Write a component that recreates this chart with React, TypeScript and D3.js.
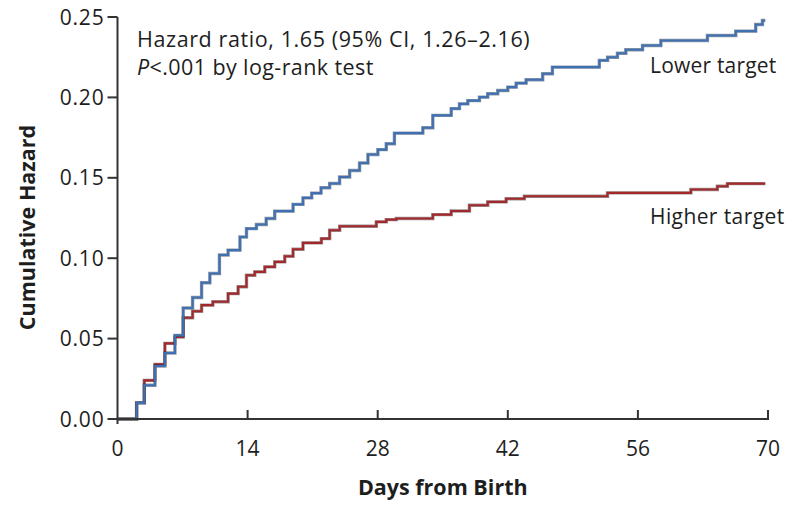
import React from "react";
import * as d3 from "d3";

// ---- Data ----
const xTicks = [0, 14, 28, 42, 56, 70];
const yTicks = [0, 0.05, 0.1, 0.15, 0.2, 0.25];

const lowerDays = [0, 2.06, 2.88, 4.03, 5.1, 6.18, 7.07, 8.08, 9.05, 9.94, 10.97, 11.9, 13.18, 13.88, 14.95, 16.0, 16.92, 18.89, 19.96, 20.9, 21.9, 22.83, 23.9, 24.98, 26.05, 26.95, 28.02, 28.92, 29.8, 32.86, 33.93, 35.91, 36.8, 37.7, 38.95, 39.84, 40.92, 42.0, 42.9, 43.97, 45.75, 46.8, 51.85, 52.74, 53.8, 54.7, 56.5, 58.47, 63.48, 66.53, 68.68, 69.4, 69.7];
const lowerValues = [0, 0.01, 0.021, 0.033, 0.041, 0.052, 0.069, 0.0756, 0.0847, 0.0905, 0.102, 0.105, 0.1132, 0.1184, 0.121, 0.1247, 0.1293, 0.1335, 0.1375, 0.1405, 0.1438, 0.1465, 0.1505, 0.1545, 0.1592, 0.1645, 0.1675, 0.1712, 0.1778, 0.1811, 0.1888, 0.193, 0.196, 0.198, 0.2002, 0.2023, 0.2043, 0.2064, 0.2089, 0.211, 0.2147, 0.2188, 0.223, 0.225, 0.2275, 0.2296, 0.2323, 0.2354, 0.2385, 0.2412, 0.2453, 0.2478, 0.2478];

const higherDays = [0, 2.06, 2.88, 4.03, 5.1, 6.18, 7.07, 8.08, 9.05, 10.26, 11.9, 12.98, 13.88, 14.77, 15.85, 16.92, 18.0, 18.89, 19.96, 21.94, 22.83, 23.91, 27.85, 28.92, 30.0, 33.93, 35.91, 37.87, 39.84, 41.82, 43.78, 52.73, 61.7, 64.55, 65.63, 69.7];
const higherValues = [0, 0.01, 0.024, 0.034, 0.047, 0.051, 0.063, 0.067, 0.0708, 0.0729, 0.078, 0.0822, 0.0894, 0.0915, 0.0946, 0.0977, 0.1012, 0.1056, 0.1095, 0.1122, 0.1174, 0.1199, 0.1226, 0.124, 0.1247, 0.1271, 0.1294, 0.1329, 0.135, 0.137, 0.1385, 0.1406, 0.1427, 0.1447, 0.1464, 0.1464];

const seriesNames = ["Lower target", "Higher target"];
const annotationLine1 = "Hazard ratio, 1.65 (95% CI, 1.26\u20132.16)";
const annotationLine2P = "P";
const annotationLine2Rest = "<.001 by log-rank test";
const xTitle = "Days from Birth";
const yTitle = "Cumulative Hazard";

const W = 793;
const H = 505;
const FONT = "'Open Sans', 'DejaVu Sans', sans-serif";
const BLUE = "#3f70b2";
const RED = "#a3282c";
const AXIS = "#333";
const TEXT = "#1e1e1e";

export default function App() {
  const x = d3.scaleLinear().domain([0, 70]).range([117.5, 768]);
  const y = d3.scaleLinear().domain([0, 0.25]).range([419, 17]);

  const line = d3
    .line<[number, number]>()
    .x((d) => x(d[0]))
    .y((d) => y(d[1]))
    .curve(d3.curveStepAfter);

  const lowerPts = lowerDays.map((d, i) => [d, lowerValues[i]] as [number, number]);
  const higherPts = higherDays.map((d, i) => [d, higherValues[i]] as [number, number]);
  const lowerPath = line(lowerPts) || "";
  const higherPath = line(higherPts) || "";

  const x0 = x(0);
  const yBase = y(0);

  return (
    <svg
      width={W}
      height={H}
      viewBox={`0 0 ${W} ${H}`}
      style={{ position: "absolute", left: 0, top: 0, display: "block", background: "#fff" }}
    >
      <rect x={0} y={0} width={W} height={H} fill="#fff" />

      {/* series */}
      <path d={higherPath} fill="none" stroke="#3a2a2a" strokeWidth={3.4} strokeOpacity={0.5} />
      <path d={higherPath} fill="none" stroke={RED} strokeWidth={2.1} />
      <path d={lowerPath} fill="none" stroke="#23324a" strokeWidth={3.4} strokeOpacity={0.5} />
      <path d={lowerPath} fill="none" stroke={BLUE} strokeWidth={2.1} />

      {/* y axis */}
      <line x1={x0} x2={x0} y1={y(0.25)} y2={yBase + 5} stroke={AXIS} strokeWidth={2} />
      {yTicks.map((t) => (
        <g key={"y" + t}>
          <line x1={x0 - 10} x2={x0} y1={y(t)} y2={y(t)} stroke={AXIS} strokeWidth={2} />
          <text
            x={x0 - 13}
            y={y(t)}
            dy="0.36em"
            textAnchor="end"
            fontFamily={FONT}
            fontSize={21}
            letterSpacing={0.8}
            fill={TEXT}
          >
            {t.toFixed(2)}
          </text>
        </g>
      ))}

      {/* x axis */}
      <line x1={x0 - 1} x2={x(70) + 1} y1={yBase} y2={yBase} stroke={AXIS} strokeWidth={2} />
      {xTicks.map((t) => (
        <g key={"x" + t}>
          {t > 0 && (
            <line x1={x(t)} x2={x(t)} y1={yBase} y2={yBase - 9} stroke={AXIS} strokeWidth={2} />
          )}
          <text
            x={x(t)}
            y={456}
            textAnchor="middle"
            fontFamily={FONT}
            fontSize={21}
            fill={TEXT}
          >
            {t}
          </text>
        </g>
      ))}

      {/* axis titles */}
      <text
        x={(x(0) + x(70)) / 2}
        y={495}
        textAnchor="middle"
        fontFamily={FONT}
        fontWeight="bold"
        fontSize={21.5}
        fill={TEXT}
      >
        {xTitle}
      </text>
      <text
        transform={`translate(35, ${227.5}) rotate(-90)`}
        textAnchor="middle"
        fontFamily={FONT}
        fontWeight="bold"
        fontSize={21.5}
        fill={TEXT}
      >
        {yTitle}
      </text>

      {/* annotation */}
      <text x={137} y={47} fontFamily={FONT} fontSize={21.5} letterSpacing={0.6} fill={TEXT}>
        {annotationLine1}
      </text>
      <text x={137} y={75} fontFamily={FONT} fontSize={21.5} letterSpacing={0.4} fill={TEXT}>
        <tspan fontStyle="italic">{annotationLine2P}</tspan>
        <tspan>{annotationLine2Rest}</tspan>
      </text>

      {/* series labels */}
      <text x={650} y={73} fontFamily={FONT} fontSize={21} letterSpacing={0.2} fill={TEXT}>
        {seriesNames[0]}
      </text>
      <text x={650} y={224} fontFamily={FONT} fontSize={21} letterSpacing={0.4} fill={TEXT}>
        {seriesNames[1]}
      </text>
    </svg>
  );
}
